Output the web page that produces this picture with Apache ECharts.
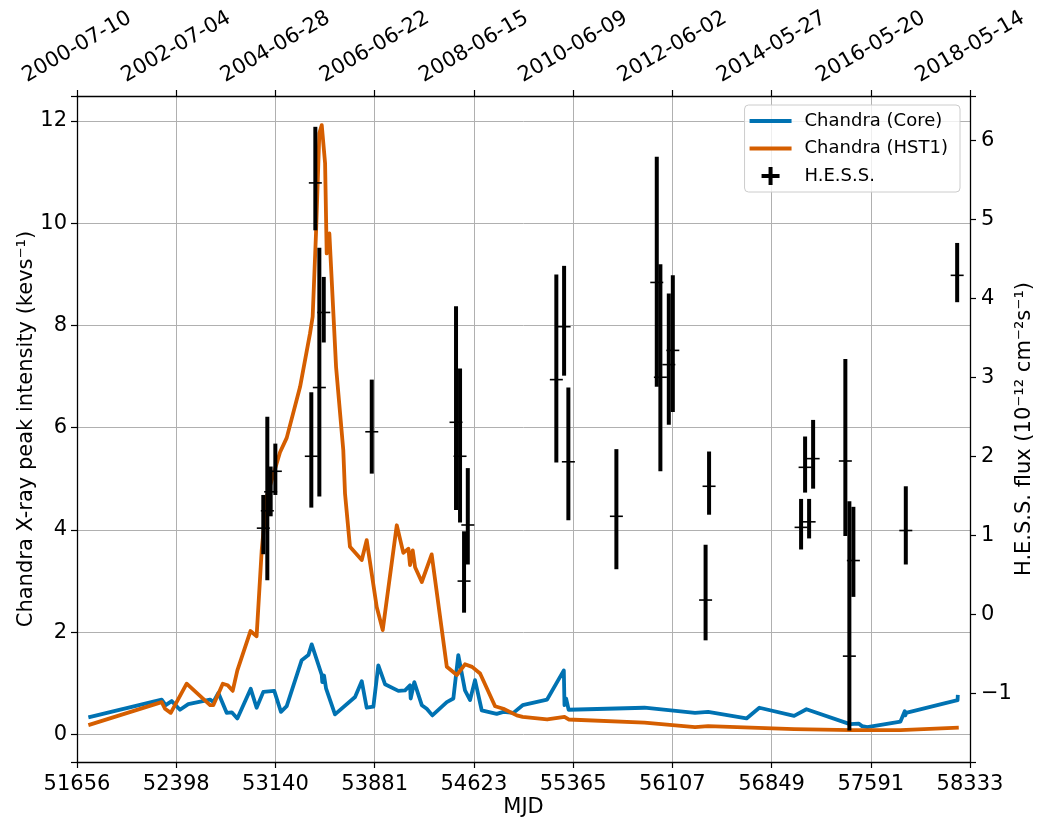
<!DOCTYPE html>
<html>
<head>
<meta charset="utf-8">
<title>Chandra / H.E.S.S. light curve</title>
<script src="https://cdn.jsdelivr.net/npm/echarts@6/dist/echarts.min.js"></script>
</head>
<body style="margin:0; background:#ffffff;">
<div id="main" style="width:1043px; height:821px;"></div>
<script type="text/javascript">

// tick labels (bottom: MJD, top: calendar dates)
var mjdTicks = ['51656', '52398', '53140', '53881', '54623', '55365', '56107', '56849', '57591', '58333'];
var dateTicks = ['2000-07-10', '2002-07-04', '2004-06-28', '2006-06-22', '2008-06-15',
                 '2010-06-09', '2012-06-02', '2014-05-27', '2016-05-20', '2018-05-14'];

// Chandra core
var coreMjd = [51741, 52289, 52319, 52364, 52426, 52488, 52651, 52675, 52713, 52775, 52813, 52855,
               52955, 52999, 53049, 53131, 53181, 53224, 53336, 53386, 53411, 53486, 53490, 53503,
               53518, 53585, 53735, 53785, 53822, 53872, 53909, 53959, 54059, 54109, 54146, 54151,
               54178, 54234, 54271, 54313, 54421, 54470, 54507, 54557, 54595, 54632, 54682, 54794,
               54844, 54919, 54988, 55171, 55296, 55301, 55313, 55332, 55899, 56277, 56375, 56662,
               56758, 57018, 57110, 57435, 57500, 57526, 57565, 57813, 57845, 57850, 57855, 58240, 58242];
var coreFlux = [0.33, 0.68, 0.57, 0.65, 0.48, 0.59, 0.68, 0.63, 0.81, 0.42, 0.43, 0.31,
                0.89, 0.52, 0.83, 0.85, 0.44, 0.55, 1.45, 1.55, 1.76, 1.16, 1.02, 1.15,
                0.90, 0.39, 0.73, 1.04, 0.52, 0.54, 1.35, 0.98, 0.85, 0.86, 0.96, 0.70,
                1.02, 0.57, 0.50, 0.37, 0.63, 0.70, 1.55, 0.86, 0.67, 1.06, 0.47, 0.40,
                0.44, 0.42, 0.57, 0.68, 1.25, 0.57, 0.70, 0.48, 0.52, 0.42, 0.44, 0.31,
                0.52, 0.36, 0.49, 0.20, 0.21, 0.16, 0.14, 0.25, 0.45, 0.37, 0.42, 0.67, 0.77];

// Chandra HST-1
var hstMjd = [51741, 52289, 52314, 52357, 52476, 52651, 52675, 52746, 52783, 52820, 52855, 52953,
              52999, 53037, 53075, 53174, 53224, 53324, 53398, 53418, 53443, 53468, 53486, 53511,
              53518, 53523, 53543, 53593, 53647, 53660, 53697, 53785, 53822, 53897, 53942, 54047,
              54096, 54134, 54146, 54166, 54184, 54234, 54308, 54421, 54496, 54557, 54610, 54670,
              54782, 54844, 54944, 54988, 55171, 55301, 55332, 55899, 56277, 56375, 57018, 57448,
              57813, 58249];
var hstFlux = [0.18, 0.63, 0.50, 0.42, 0.99, 0.57, 0.57, 0.99, 0.96, 0.85, 1.25, 2.02,
               1.92, 3.60, 4.65, 5.52, 5.80, 6.80, 7.84, 8.17, 9.80, 11.76, 11.92, 11.17,
               11.14, 9.41, 9.80, 7.19, 5.56, 4.71, 3.67, 3.41, 3.80, 2.49, 2.04, 4.09,
               3.55, 3.63, 3.31, 3.60, 3.27, 2.98, 3.52, 1.32, 1.16, 1.37, 1.32, 1.19,
               0.55, 0.50, 0.37, 0.34, 0.29, 0.34, 0.29, 0.23, 0.14, 0.16, 0.10, 0.08,
               0.08, 0.13];

// H.E.S.S. flux with error range
var hessMjd = [53049, 53079, 53104, 53139, 53408, 53438, 53468, 53501, 53860, 54490, 54520, 54550,
               54578, 55240, 55298, 55330, 55689, 55991, 56018, 56081, 56111, 56356, 56382, 57070,
               57100, 57130, 57160, 57401, 57431, 57461, 57853, 58237];
var hessFlux = [1.09, 1.31, 1.55, 1.81, 2.00, 5.46, 2.87, 3.82, 2.31, 2.43, 2.00, 0.42,
                1.13, 2.97, 3.64, 1.93, 1.24, 4.20, 3.00, 3.16, 3.34, 0.18, 1.62, 1.10,
                1.86, 1.17, 1.97, 1.94, -0.53, 0.68, 1.06, 4.29];
var hessLow = [0.76, 0.43, 1.24, 1.51, 1.35, 4.86, 1.49, 3.44, 1.78, 1.32, 1.16, 0.02,
               0.63, 1.92, 3.02, 1.19, 0.57, 2.88, 1.81, 2.40, 2.56, -0.33, 1.26, 0.82,
               1.54, 0.96, 1.59, 0.99, -1.47, 0.22, 0.63, 3.95];
var hessHigh = [1.51, 2.50, 1.87, 2.16, 2.81, 6.17, 4.64, 4.27, 2.97, 3.90, 3.11, 1.05,
                1.85, 4.30, 4.41, 2.87, 2.09, 5.79, 4.43, 4.06, 4.29, 0.88, 2.06, 1.46,
                2.25, 1.46, 2.46, 3.23, 1.43, 1.36, 1.62, 4.70];

var mjdStart = 51656;
var tickStep = (58333 - 51656) / 9;
function toT(mjd) { return (mjd - mjdStart) / tickStep; }

var font = 'DejaVu Sans';
var coreData = coreMjd.map(function (m, i) { return [toT(m), coreFlux[i]]; });
var hstData = hstMjd.map(function (m, i) { return [toT(m), hstFlux[i]]; });
var hessData = hessMjd.map(function (m, i) { return [toT(m), hessFlux[i], hessLow[i], hessHigh[i]]; });

function isWhole(v) { return Math.abs(v - Math.round(v)) < 1e-6; }

var chartDom = document.getElementById('main');
var myChart = echarts.init(chartDom);
var option = {
  animation: false,
  backgroundColor: '#ffffff',
  grid: { left: 77, right: 73, top: 96, bottom: 59, outerBoundsMode: 'none' },
  legend: {
    orient: 'vertical', right: 83, top: 105,
    padding: [7, 12, 7, 5], itemGap: 9.5, itemWidth: 42, itemHeight: 18,
    backgroundColor: 'rgba(255,255,255,0.8)', borderColor: '#cccccc', borderWidth: 1, borderRadius: 4,
    textStyle: { fontSize: 18, color: '#000', fontFamily: font, padding: [0, 0, 0, 8] },
    itemStyle: { borderWidth: 0 },
    data: [
      { name: 'Chandra (Core)', icon: 'path://M0,0H42V4H0Z' },
      { name: 'Chandra (HST1)', icon: 'path://M0,0H42V4H0Z' },
      { name: 'H.E.S.S.', icon: 'path://M7,0H11V7H18V11H11V18H7V11H0V7H7Z' }
    ]
  },
  xAxis: [
    {
      type: 'value', position: 'bottom', min: 0, max: 9, interval: 1,
      name: 'MJD', nameLocation: 'middle', nameGap: 35, nameMoveOverlap: false,
      nameTextStyle: { fontSize: 21, color: '#000', fontFamily: font },
      axisLine: { show: true, onZero: false, lineStyle: { color: '#000', width: 1.3 } },
      axisTick: { show: true, length: 6, lineStyle: { color: '#000', width: 1.2 } },
      axisLabel: { margin: 12, fontSize: 21, color: '#000', fontFamily: font,
        formatter: function (v) { return mjdTicks[Math.round(v)]; } },
      splitLine: { show: true, lineStyle: { color: '#b0b0b0', width: 1 }, showMinLine: false, showMaxLine: false }
    },
    {
      type: 'value', position: 'top', min: 0, max: 9, interval: 1,
      axisLine: { show: true, onZero: false, lineStyle: { color: '#000', width: 1.3 } },
      axisTick: { show: true, length: 6, lineStyle: { color: '#000', width: 1.2 } },
      axisLabel: { rotate: -30, align: 'center', verticalAlign: 'middle', margin: 49,
        fontSize: 21, color: '#000', fontFamily: font,
        formatter: function (v) { return dateTicks[Math.round(v)]; } },
      splitLine: { show: false }
    }
  ],
  yAxis: [
    {
      type: 'value', position: 'left', min: -0.542, max: 12.49, splitNumber: 6,
      name: 'Chandra X-ray peak intensity (kevs\u207b\u00b9)', nameLocation: 'middle', nameRotate: 90,
      nameGap: 40, nameMoveOverlap: false,
      nameTextStyle: { fontSize: 21, color: '#000', fontFamily: font },
      axisLine: { show: true, onZero: false, lineStyle: { color: '#000', width: 1.3 } },
      axisTick: { show: true, length: 6, lineStyle: { color: '#000', width: 1.2 } },
      axisLabel: { margin: 10, fontSize: 21, color: '#000', fontFamily: font,
        formatter: function (v) { return isWhole(v) ? String(Math.round(v)) : ''; } },
      splitLine: { show: true, lineStyle: { color: '#b0b0b0', width: 1 }, showMinLine: false, showMaxLine: false }
    },
    {
      type: 'value', position: 'right', min: -1.87, max: 6.56, splitNumber: 8,
      name: 'H.E.S.S. flux (10\u207b\u00b9\u00b2 cm\u207b\u00b2s\u207b\u00b9)', nameLocation: 'middle', nameRotate: 90,
      nameGap: 44, nameMoveOverlap: false,
      nameTextStyle: { fontSize: 21, color: '#000', fontFamily: font },
      axisLine: { show: true, onZero: false, lineStyle: { color: '#000', width: 1.3 } },
      axisTick: { show: true, length: 6, lineStyle: { color: '#000', width: 1.2 } },
      axisLabel: { margin: 11, fontSize: 21, color: '#000', fontFamily: font,
        formatter: function (v) {
          if (!isWhole(v)) return '';
          var n = Math.round(v);
          return n < 0 ? '\u2212' + (-n) : String(n);
        } },
      splitLine: { show: false }
    }
  ],
  series: [
    {
      name: 'Chandra (Core)', type: 'line', xAxisIndex: 0, yAxisIndex: 0,
      data: coreData, showSymbol: false, symbol: 'none', color: '#0072B2',
      lineStyle: { width: 3.8, color: '#0072B2', join: 'round' }, z: 2
    },
    {
      name: 'Chandra (HST1)', type: 'line', xAxisIndex: 0, yAxisIndex: 0,
      data: hstData, showSymbol: false, symbol: 'none', color: '#D55E00',
      lineStyle: { width: 3.8, color: '#D55E00', join: 'round' }, z: 3
    },
    {
      name: 'H.E.S.S.', type: 'custom', xAxisIndex: 0, yAxisIndex: 1,
      data: hessData, itemStyle: { color: '#000' }, z: 4,
      encode: { x: 0, y: [1, 2, 3] },
      renderItem: function (params, api) {
        var x = api.value(0);
        var p = api.coord([x, api.value(1)]);
        var lo = api.coord([x, api.value(2)]);
        var hi = api.coord([x, api.value(3)]);
        return {
          type: 'group',
          children: [
            { type: 'line', shape: { x1: lo[0], y1: lo[1], x2: hi[0], y2: hi[1] },
              style: { stroke: '#000', lineWidth: 4 } },
            { type: 'line', shape: { x1: p[0] - 6.5, y1: p[1], x2: p[0] + 6.5, y2: p[1] },
              style: { stroke: '#000', lineWidth: 1.6 } }
          ]
        };
      }
    }
  ]
};

option && myChart.setOption(option);
</script>
</body>
</html>
